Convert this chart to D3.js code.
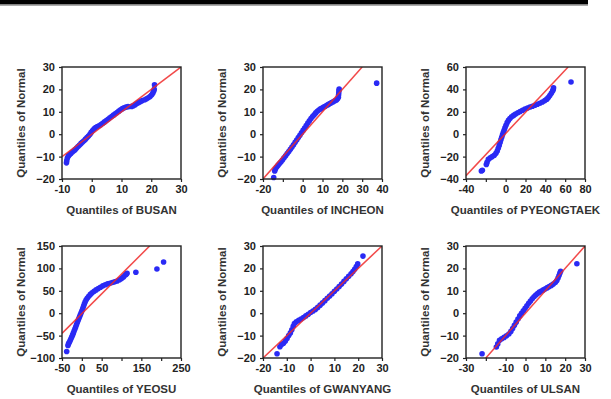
<!DOCTYPE html>
<html>
<head>
<meta charset="utf-8">
<script src="https://cdn.jsdelivr.net/npm/d3@7"></script>
<style>
  body { margin: 0; background: #fff; }
  text { font-family: "Liberation Sans", Arial, sans-serif; font-weight: bold; }
</style>
</head>
<body>
<script>
/* Q-Q plots of six ports */
const names = ["BUSAN", "INCHEON", "PYEONGTAEK", "YEOSU", "GWANYANG", "ULSAN"];

const xDomains = [[-10, 30], [-20, 40], [-40, 80], [-50, 250], [-20, 30], [-30, 30]];
const yDomains = [[-20, 30], [-20, 30], [-40, 60], [-100, 150], [-20, 30], [-20, 30]];

// tick marks, and the ones that carry a label
const xTicks = [[-10, 0, 10, 20, 30], [-20, -10, 0, 10, 20, 30, 40], [-40, -20, 0, 20, 40, 60, 80],
  [-50, 0, 50, 100, 150, 200, 250], [-20, -10, 0, 10, 20, 30], [-30, -20, -10, 0, 10, 20, 30]];
const xLabels = [[-10, 0, 10, 20, 30], [-20, 0, 10, 20, 30, 40], [-40, 0, 20, 40, 60, 80],
  [-50, 0, 50, 150, 250], [-20, -10, 0, 10, 20, 30], [-30, -10, 0, 10, 20, 30]];
const yTicks = [[-20, -10, 0, 10, 20, 30], [-20, -10, 0, 10, 20, 30], [-40, -20, 0, 20, 40, 60],
  [-100, -50, 0, 50, 100, 150], [-20, -10, 0, 10, 20, 30], [-20, -10, 0, 10, 20, 30]];

// reference lines [x1, y1, x2, y2]
const refLines = [[-10, -10, 30, 30], [-20, -20, 30, 30], [-40, -37, 63, 60],
  [-50, -45, 171, 150], [-20, -20, 30, 30], [-20, -20, 30, 30]];

// sample quantiles vs normal quantiles
const busan = [[-8.5,-12.8],[-8.4,-11.8],[-8.2,-10.6],[-7.9,-9.8],[-7.5,-9.2],[-7.1,-8.7],[-6.6,-8.1],[-6.1,-7.5],[-5.6,-6.9],[-5.1,-6.2],[-4.6,-5.5],[-4.1,-4.8],[-3.6,-4.1],[-3.1,-3.5],[-2.6,-2.9],[-2.1,-2.2],[-1.6,-1.5],[-1.1,-0.8],[-0.6,0],[-0.2,0.8],[0.3,1.6],[0.8,2.4],[1.3,3],[1.9,3.4],[2.5,3.8],[3.1,4.3],[3.7,4.9],[4.3,5.5],[4.9,6.1],[5.5,6.7],[6.1,7.3],[6.7,7.9],[7.3,8.5],[7.9,9.1],[8.5,9.7],[9.1,10.3],[9.7,10.9],[10.3,11.4],[10.9,11.8],[11.5,12.1],[12.2,12.3],[13.4,12.4],[14,12.7],[14.6,13.2],[15.2,13.7],[15.8,14.2],[16.4,14.6],[17,15],[17.8,15.4],[18.4,15.8],[19,16.3],[19.6,16.8],[20.1,17.5],[20.5,18.3],[20.8,19.2],[21,20],[21.1,22]];
const incheon = [[-14.6,-19.3],[-14.1,-16.4],[-13.8,-15.6],[-13.2,-14.8],[-12.5,-14],[-11.8,-13.2],[-11,-12.4],[-10.2,-11.5],[-9.4,-10.5],[-8.6,-9.6],[-7.8,-8.6],[-7,-7.7],[-6.2,-6.7],[-5.4,-5.7],[-4.6,-4.7],[-3.8,-3.6],[-3,-2.6],[-2.2,-1.5],[-1.4,-0.5],[-0.6,0.6],[0.2,1.7],[1,2.8],[1.8,3.9],[2.6,5],[3.4,6],[4.2,7],[5,7.9],[5.8,8.7],[6.6,9.5],[7.4,10.2],[8.2,10.8],[9,11.3],[9.8,11.7],[10.6,12.1],[11.4,12.5],[12.2,12.9],[13,13.3],[13.8,13.7],[14.6,14.1],[15.4,14.5],[16.2,14.9],[17,15.3],[17.6,15.8],[18,16.5],[18.1,17.5],[18.2,18.5],[18.3,19.5],[18.4,20.2],[37.3,22.8]];
const pyeongtaek = [[-24.5,-32.8],[-23.5,-32.2],[-19.5,-27],[-18.8,-25.2],[-17.5,-22.5],[-15.5,-21],[-13.5,-20],[-11.5,-18.8],[-9.8,-17],[-8.5,-15],[-7.5,-12.5],[-6.5,-10],[-5.6,-7.5],[-4.8,-5],[-4,-2.8],[-3.2,-0.5],[-2.4,1.5],[-1.6,3.5],[-0.7,5.8],[0.3,8],[1.5,10.3],[2.8,12.3],[4.3,14],[6,15.5],[8,16.8],[10,18],[12.3,19.2],[14.6,20.3],[17,21.4],[19.5,22.5],[22,23.4],[24.5,24.3],[27,25],[29.5,25.8],[32,26.7],[34.5,27.7],[37,28.8],[39.5,30],[41.5,31.3],[43,32.8],[44.5,34.5],[46,36.5],[47.3,38.5],[48,40],[48.3,41.5],[65.9,46.6]];
const yeosu = [[-38.2,-85.4],[-35,-72],[-33.5,-68],[-31.5,-65],[-29.5,-61],[-27.5,-57],[-25.5,-53],[-23.5,-49],[-21.5,-44.5],[-19.5,-40],[-17.5,-35.5],[-15.5,-31],[-13.5,-26],[-11.5,-21],[-9.5,-16.5],[-7.5,-12],[-5.5,-7.5],[-3.5,-3],[-1.5,1.5],[0.5,6],[2.5,11],[4.5,16],[6.5,21],[8.5,25.5],[11,30],[14,34],[17.5,38],[21.5,42],[26,45.5],[31,49],[36,52],[41.5,55],[47,58],[53,61],[59,63.5],[65,65.5],[71,67],[77,68.5],[83,70],[89,72],[95,74.5],[100,77.5],[105,81],[109,84.5],[112,87],[114,89],[136.2,91.5],[189.3,98.8],[206.1,114.2]];
const gwanyang = [[-14.1,-18.1],[-12.9,-15],[-12.2,-14],[-11.4,-13.4],[-10.6,-12.4],[-9.9,-11.3],[-9.2,-10],[-8.5,-8.8],[-7.9,-7.4],[-7.3,-5.8],[-6.8,-4.6],[-6,-3.8],[-5,-3.2],[-4,-2.6],[-3,-1.9],[-2,-1.2],[-1,-0.5],[0,0.3],[1,1],[2,1.7],[3,2.6],[4,3.6],[5,4.6],[6,5.6],[7,6.7],[8,7.7],[9,8.7],[10,9.8],[11,10.8],[12,11.9],[13,13],[14,14.2],[15,15.4],[16,16.5],[17,17.6],[17.8,18.6],[18.5,19.6],[19.2,20.8],[19.8,22],[22,25.5]];
const ulsan = [[-21.9,-18.1],[-14.7,-15.1],[-14,-13.7],[-13.1,-12.1],[-12,-11.4],[-10.8,-10.8],[-9.6,-10.1],[-8.4,-9.3],[-7.4,-8.2],[-6.5,-6.8],[-5.6,-5.4],[-4.7,-4],[-3.8,-2.6],[-2.9,-1.2],[-2,0],[-1.1,1.1],[-0.2,2.2],[0.7,3.3],[1.6,4.4],[2.5,5.4],[3.4,6.4],[4.3,7.3],[5.2,8.1],[6.1,8.8],[7,9.4],[8,9.9],[9,10.4],[10,10.9],[11,11.4],[12,11.9],[13,12.4],[14,13],[15,13.7],[15.8,14.6],[16.4,15.7],[16.9,16.8],[17.3,17.8],[17.7,18.7],[25.9,22.1]];
const series = [busan, incheon, pyeongtaek, yeosu, gwanyang, ulsan];

const width = 611; const height = 399;
const boxW = 119; const boxH = 112;
const lefts = [62, 263, 466];
const tops = [67, 246];

const svg = d3.select("body")
    .append("svg")
    .attr("width", width)
    .attr("height", height);

// black bar at the top
svg.append("rect").attr("x", 0).attr("y", 0).attr("width", 588).attr("height", 4.5).attr("fill", "#000");
svg.append("rect").attr("x", 0).attr("y", 4.5).attr("width", 588).attr("height", 1.2).attr("fill", "#888");

names.forEach(function(name, i) {
    const left = lefts[i % 3];
    const top = tops[Math.floor(i / 3)];
    const g = svg.append("g").attr("transform", "translate(" + left + "," + top + ")");

    const x = d3.scaleLinear().domain(xDomains[i]).range([0, boxW]);
    const y = d3.scaleLinear().domain(yDomains[i]).range([boxH, 0]);

    const labX = xLabels[i];
    const xAxis = d3.axisBottom(x).tickValues(xTicks[i]).tickSize(3).tickPadding(3)
        .tickFormat(d => labX.includes(d) ? d : "");
    const yAxis = d3.axisLeft(y).tickValues(yTicks[i]).tickSize(3).tickPadding(4);

    g.append("g").attr("transform", "translate(0," + boxH + ")").call(xAxis);
    g.append("g").call(yAxis);
    g.selectAll(".domain").remove();
    g.selectAll(".tick line").attr("stroke", "#222").attr("stroke-width", 1.2);
    g.selectAll(".tick text").attr("font-size", "11px").attr("fill", "#222")
        .attr("font-family", "Liberation Sans, Arial, sans-serif");

    const clipId = "clip" + i;
    g.append("clipPath").attr("id", clipId)
        .append("rect").attr("width", boxW).attr("height", boxH);

    // points
    g.append("g")
        .selectAll("circle")
        .data(series[i])
        .enter()
        .append("circle")
        .attr("cx", d => x(d[0]))
        .attr("cy", d => y(d[1]))
        .attr("r", 2.8)
        .attr("fill", "#2a2af5");

    // reference line
    const l = refLines[i];
    g.append("line")
        .attr("clip-path", "url(#" + clipId + ")")
        .attr("x1", x(l[0])).attr("y1", y(l[1]))
        .attr("x2", x(l[2])).attr("y2", y(l[3]))
        .attr("stroke", "#f02a2a")
        .attr("stroke-width", 1.5)
        .attr("opacity", 0.85);

    // frame
    g.append("rect")
        .attr("width", boxW).attr("height", boxH)
        .attr("fill", "none")
        .attr("stroke", "#222")
        .attr("stroke-width", 1.4);

    // axis titles
    g.append("text")
        .attr("x", boxW / 2).attr("y", 147)
        .attr("text-anchor", "middle")
        .attr("font-size", "11.5px")
        .attr("fill", "#333")
        .text("Quantiles of " + name);
    g.append("text")
        .attr("transform", "translate(-40," + boxH / 2 + ") rotate(-90)")
        .attr("text-anchor", "middle")
        .attr("dominant-baseline", "middle")
        .attr("font-size", "11.5px")
        .attr("fill", "#333")
        .text("Quantiles of Normal");
});
</script>
</body>
</html>
